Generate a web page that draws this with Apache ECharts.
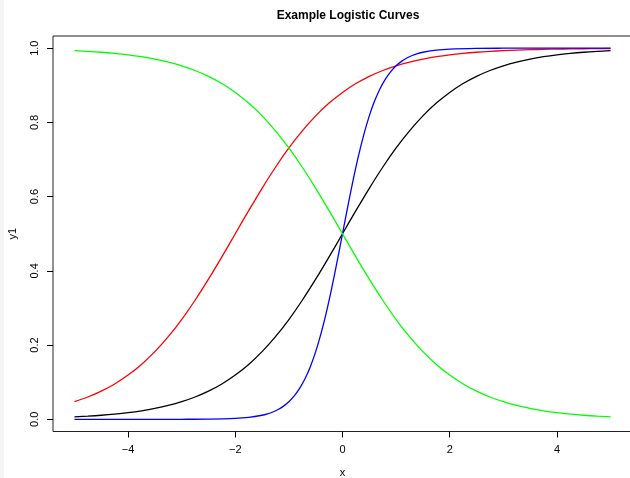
<!DOCTYPE html>
<html><head><meta charset="utf-8">
<script src="https://cdn.jsdelivr.net/npm/echarts@6/dist/echarts.min.js"></script>
<style>
html,body{margin:0;padding:0;background:#fff;}
#strip{position:absolute;left:0;top:0;width:4px;height:478px;background:#f5f5f5;}
#c{position:absolute;left:0;top:0;width:630px;height:478px;}
</style></head>
<body><div id="c"></div><div id="strip"></div>
<script>
// x grid for black, red, green
const xs = [-5,-4.75,-4.5,-4.25,-4,-3.75,-3.5,-3.25,-3,-2.75,-2.5,-2.25,-2,-1.75,-1.5,-1.25,-1,-0.75,-0.5,-0.25,0,0.25,0.5,0.75,1,1.25,1.5,1.75,2,2.25,2.5,2.75,3,3.25,3.5,3.75,4,4.25,4.5,4.75,5];
const blackY = [0.0067,0.0086,0.0110,0.0141,0.0180,0.0230,0.0293,0.0373,0.0474,0.0601,0.0759,0.0953,0.1192,0.1480,0.1824,0.2227,0.2689,0.3208,0.3775,0.4378,0.5,0.5622,0.6225,0.6792,0.7311,0.7773,0.8176,0.8520,0.8808,0.9047,0.9241,0.9399,0.9526,0.9627,0.9707,0.9770,0.9820,0.9859,0.9890,0.9914,0.9933];
const redY = [0.0474,0.0601,0.0759,0.0953,0.1192,0.1480,0.1824,0.2227,0.2689,0.3208,0.3775,0.4378,0.5,0.5622,0.6225,0.6792,0.7311,0.7773,0.8176,0.8520,0.8808,0.9047,0.9241,0.9399,0.9526,0.9627,0.9707,0.9770,0.9820,0.9859,0.9890,0.9914,0.9933,0.9948,0.9959,0.9968,0.9975,0.9981,0.9985,0.9988,0.9991];
const greenY = [0.9933,0.9914,0.9890,0.9859,0.9820,0.9770,0.9707,0.9627,0.9526,0.9399,0.9241,0.9047,0.8808,0.8520,0.8176,0.7773,0.7311,0.6792,0.6225,0.5622,0.5,0.4378,0.3775,0.3208,0.2689,0.2227,0.1824,0.1480,0.1192,0.0953,0.0759,0.0601,0.0474,0.0373,0.0293,0.0230,0.0180,0.0141,0.0110,0.0086,0.0067];
// finer grid for the steep blue curve
const blueX = [-5,-4.5,-4,-3.5,-3,-2.5,-2,-1.75,-1.5,-1.4,-1.3,-1.2,-1.1,-1,-0.9,-0.8,-0.7,-0.6,-0.5,-0.4,-0.3,-0.2,-0.1,0,0.1,0.2,0.3,0.4,0.5,0.6,0.7,0.8,0.9,1,1.1,1.2,1.3,1.4,1.5,1.75,2,2.5,3,3.5,4,4.5,5];
const blueY = [0.0000,0.0000,0.0000,0.0000,0.0001,0.0006,0.0025,0.0052,0.0110,0.0148,0.0198,0.0266,0.0356,0.0474,0.0630,0.0832,0.1091,0.1419,0.1824,0.2315,0.2891,0.3543,0.4256,0.5,0.5744,0.6457,0.7109,0.7685,0.8176,0.8581,0.8909,0.9168,0.9370,0.9526,0.9644,0.9734,0.9802,0.9852,0.9890,0.9948,0.9975,0.9994,0.9999,1.0000,1.0000,1.0000,1.0000];
const xTicks = [-4,-2,0,2,4];
const yTicks = [0,0.2,0.4,0.6,0.8,1.0];

const pairs = (a,b)=>a.map((v,i)=>[v,b[i]]);
const font = '"Liberation Sans", Arial, sans-serif';
const chart = echarts.init(document.getElementById('c'), null, {renderer:'canvas'});
function line(name, x, y, color){
  return {name, type:'line', data:pairs(x,y), showSymbol:false, smooth:0.35,
    lineStyle:{color, width:1.3}, itemStyle:{color}, silent:true, animation:false, clip:true};
}
chart.setOption({
  animation:false,
  backgroundColor:'#fff',
  title:{text:'Example Logistic Curves', left:343, top:5, textAlign:'center',
    textStyle:{fontFamily:font, fontSize:12, fontWeight:'bold', color:'#000'}},
  grid:{left:53, top:36, width:579, height:395.5, outerBoundsMode:'none', containLabel:false,
    show:true, borderColor:'#222', borderWidth:1, backgroundColor:'transparent'},
  xAxis:{type:'value', min:-5.4, max:5.4, name:'x', nameLocation:'middle', nameGap:36,
    nameTextStyle:{fontFamily:font, fontSize:11, color:'#000'},
    splitLine:{show:false}, axisLine:{show:false, onZero:false},
    axisTick:{show:true, inside:false, length:6, customValues:xTicks, lineStyle:{color:'#000'}},
    axisLabel:{customValues:xTicks, margin:13, fontFamily:font, fontSize:11, color:'#000',
      formatter:v=>String(v).replace('-','\u2212')}},
  yAxis:{type:'value', min:-0.0328, max:1.0328, name:'y1', nameLocation:'middle', nameGap:35, nameRotate:90,
    nameTextStyle:{fontFamily:font, fontSize:11, color:'#000'},
    splitLine:{show:false}, axisLine:{show:false, onZero:false},
    axisTick:{show:true, inside:false, length:6, customValues:yTicks, lineStyle:{color:'#000'}},
    axisLabel:{customValues:yTicks, rotate:90, margin:13, fontFamily:font, fontSize:11, color:'#000',
      formatter:v=>v.toFixed(1)}},
  series:[
    line('black', xs, blackY, '#000000'),
    line('red', xs, redY, '#ff0000'),
    line('blue', blueX, blueY, '#0000ff'),
    line('green', xs, greenY, '#00ff00')
  ]
});
</script></body></html>
